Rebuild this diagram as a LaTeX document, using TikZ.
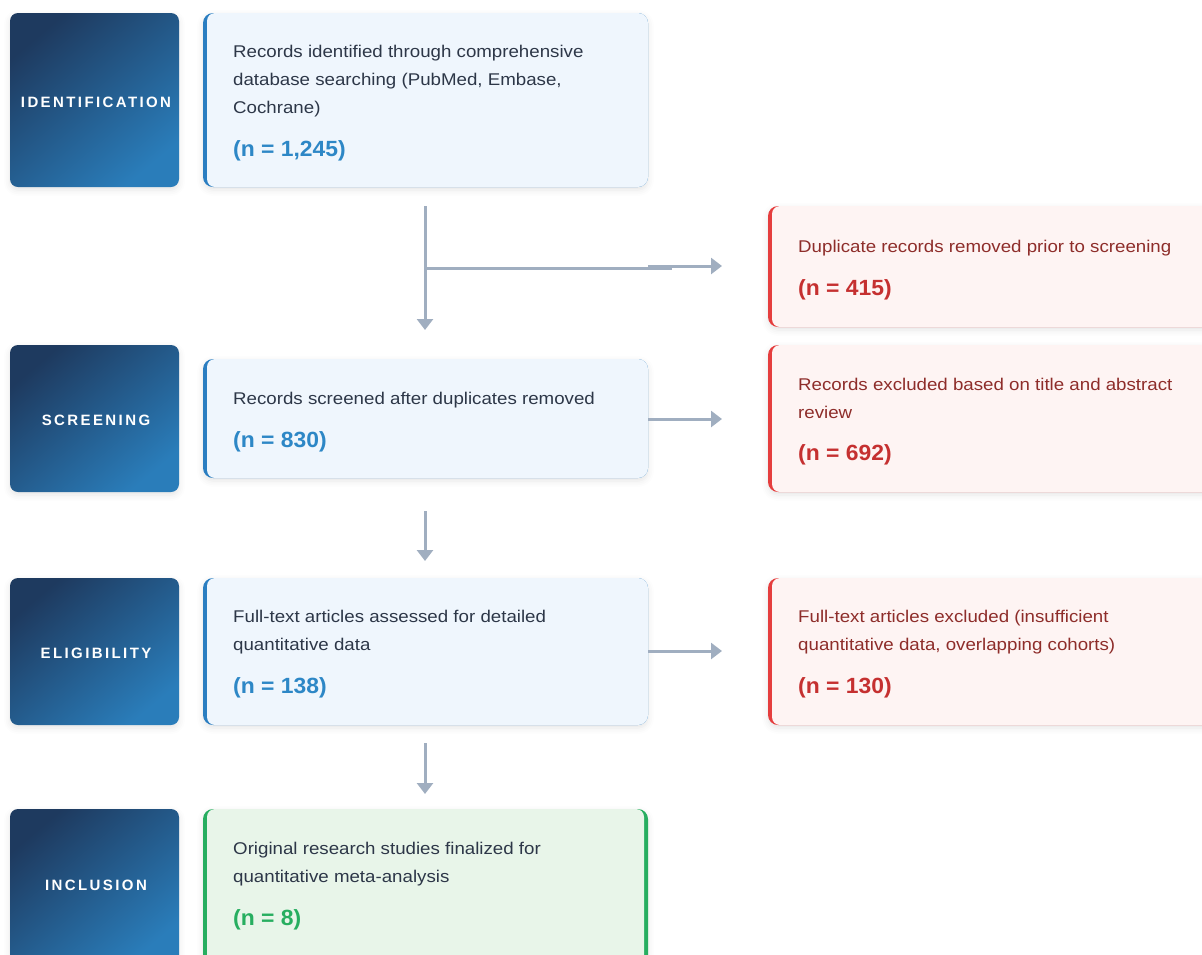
\documentclass[tikz,border=0pt]{standalone}
\usepackage{fontspec}
\setmainfont{Liberation Sans}
\newfontfamily\stagefont[LetterSpace=16]{Liberation Sans}
\newfontfamily\descfont[FakeStretch=1.1]{Liberation Sans}
\newfontfamily\numfont[FakeStretch=1.04]{Liberation Sans}
\usetikzlibrary{arrows.meta,shadows.blur}
\definecolor{navyA}{HTML}{1E3A5F}
\definecolor{navyB}{HTML}{2A7DBA}
\definecolor{blueBorder}{HTML}{2B7EC1}
\definecolor{blueFill}{HTML}{EFF6FD}
\definecolor{blueNum}{HTML}{2D87C6}
\definecolor{redBorder}{HTML}{E53E3E}
\definecolor{redFill}{HTML}{FEF4F3}
\definecolor{redText}{HTML}{8E2D2A}
\definecolor{redNum}{HTML}{C53030}
\definecolor{greenBorder}{HTML}{27AE60}
\definecolor{greenFill}{HTML}{E8F5E9}
\definecolor{darkText}{HTML}{2D3748}
\definecolor{arrowGray}{HTML}{A0AEC0}
\tikzset{
  softshadow/.style={blur shadow={shadow xshift=0pt, shadow yshift=-3pt, shadow blur radius=6pt, shadow opacity=10}},
  stagebox/.style={rectangle, rounded corners=8pt, minimum width=169pt, minimum height=#1, inner sep=0pt,
    top color=navyA, bottom color=navyB, shading angle=40, softshadow},
  stagelabel/.style={text=white, inner sep=0pt, font=\stagefont\bfseries\fontsize{15}{18}\selectfont},
  leftbox/.style n args={3}{rectangle, rounded corners=10pt, minimum width=#1, minimum height=#2, inner sep=0pt,
    fill=#3Border, softshadow,
    path picture={\fill[#3Fill, rounded corners=8pt] ([xshift=4pt]path picture bounding box.north west) rectangle (path picture bounding box.south east);}},
  greenbox/.style n args={2}{rectangle, rounded corners=10pt, minimum width=#1, minimum height=#2, inner sep=0pt,
    fill=greenBorder, softshadow,
    path picture={\fill[greenFill, rounded corners=8pt] ([xshift=4pt]path picture bounding box.north west) rectangle ([xshift=-4pt]path picture bounding box.south east);}},
  desc/.style={anchor=base west, align=left, inner sep=0pt, text=#1, font=\descfont\fontsize{17}{28}\selectfont},
  num/.style={anchor=base west, inner sep=0pt, text=#1, font=\numfont\bfseries\fontsize{22}{26}\selectfont},
  arr/.style={draw=arrowGray, line width=3pt, -{Triangle[length=11pt,width=16pt]}},
  plainline/.style={draw=arrowGray, line width=3pt}
}
\begin{document}
\begin{tikzpicture}[x=1pt,y=-1pt]
\useasboundingbox (0,0) rectangle (1202,954);
% stage boxes
\node[stagebox=174pt] (sId) at (94.5,100) {};
\node[stagelabel] (lId) at (96,102) {IDENTIFICATION};
\node[stagebox=147pt] (sSc) at (94.5,418.5) {};
\node[stagelabel] (lSc) at (96,420) {SCREENING};
\node[stagebox=147pt] (sEl) at (94.5,651.5) {};
\node[stagelabel] (lEl) at (96,653) {ELIGIBILITY};
\node[stagebox=156pt] (sIn) at (94.5,887) {};
\node[stagelabel] (lIn) at (96,885) {INCLUSION};
% main boxes
\node[leftbox={445pt}{174pt}{blue}] (b1) at (425.5,100) {};
\node[leftbox={445pt}{119pt}{blue}] (b2) at (425.5,418.5) {};
\node[leftbox={445pt}{147pt}{blue}] (b3) at (425.5,651.5) {};
\node[greenbox={445pt}{160pt}] (b4) at (425.5,889) {};
% red boxes
\node[leftbox={444pt}{121pt}{red}] (rA) at (990,266.5) {};
\node[leftbox={444pt}{147pt}{red}] (rB) at (990,418.5) {};
\node[leftbox={444pt}{147pt}{red}] (rC) at (990,651.5) {};
% texts
\node[desc=darkText] (t1) at (233,113) {Records identified through comprehensive\\database searching (PubMed, Embase,\\Cochrane)};
\node[num=blueNum] (n1) at (233,156) {(n = 1,245)};
\node[desc=darkText] (t2) at (233,404) {Records screened after duplicates removed};
\node[num=blueNum] (n2) at (233,447) {(n = 830)};
\node[desc=darkText] (t3) at (233,650) {Full-text articles assessed for detailed\\quantitative data};
\node[num=blueNum] (n3) at (233,693) {(n = 138)};
\node[desc=darkText] (t4) at (233,882) {Original research studies finalized for\\quantitative meta-analysis};
\node[num=greenBorder] (n4) at (233,925) {(n = 8)};
\node[desc=redText] (tA) at (798,252) {Duplicate records removed prior to screening};
\node[num=redNum] (nA) at (798,295) {(n = 415)};
\node[desc=redText] (tB) at (798,418) {Records excluded based on title and abstract\\review};
\node[num=redNum] (nB) at (798,460) {(n = 692)};
\node[desc=redText] (tC) at (798,650) {Full-text articles excluded (insufficient\\quantitative data, overlapping cohorts)};
\node[num=redNum] (nC) at (798,693) {(n = 130)};
% connectors
\coordinate (v1s) at (425,206);
\coordinate (v1e) at (425,330);
\coordinate (brS) at (425,268);
\coordinate (brE) at (672,268);
\coordinate (hAs) at (648,266);
\coordinate (hAe) at (722,266);
\draw[arr] (v1s) -- (v1e);
\draw[plainline] (brS) -- (brE);
\draw[arr] (hAs) -- (hAe);
\coordinate (hBs) at (648,419);
\coordinate (hBe) at (722,419);
\draw[arr] (hBs) -- (hBe);
\coordinate (v2s) at (425,511);
\coordinate (v2e) at (425,561);
\draw[arr] (v2s) -- (v2e);
\coordinate (hCs) at (648,651);
\coordinate (hCe) at (722,651);
\draw[arr] (hCs) -- (hCe);
\coordinate (v3s) at (425,743);
\coordinate (v3e) at (425,794);
\draw[arr] (v3s) -- (v3e);
\end{tikzpicture}
\end{document}
